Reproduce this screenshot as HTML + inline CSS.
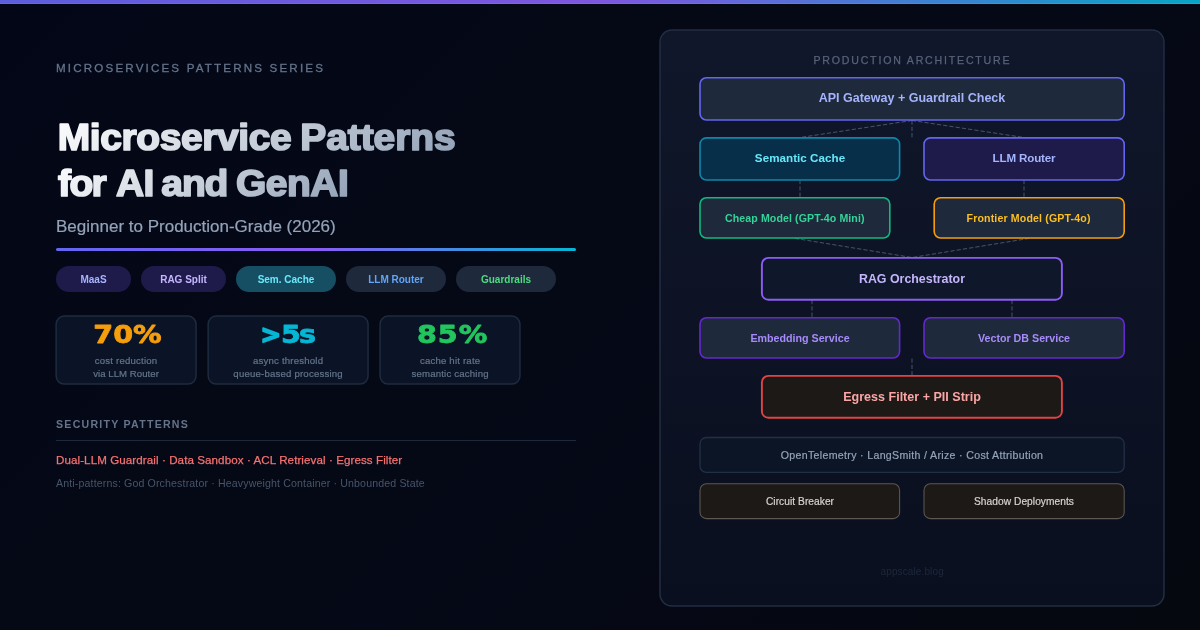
<!DOCTYPE html>
<html lang="en">
<head>
<meta charset="utf-8">
<title>Microservice Patterns for AI and GenAI</title>
<style>
*{margin:0;padding:0;box-sizing:border-box}
html,body{width:1200px;height:630px;overflow:hidden;background:#040816}
body{font-family:"Liberation Sans",sans-serif;-webkit-font-smoothing:antialiased}
.card{position:relative;width:1200px;height:630px;overflow:hidden;will-change:transform;
  background:linear-gradient(135deg,#020617 0%,#050916 32%,#050917 55%,#05080f 100%)}
.topbar{position:absolute;left:0;top:0;width:1200px;height:4px;
  background:linear-gradient(90deg,#6366f1 0%,#8b5cf6 50%,#06b6d4 100%)}
.topbar i{display:block;height:3px;background:linear-gradient(90deg,#5c5edc 0%,#7e56e0 50%,#08a5c5 100%)}
.abs{position:absolute;white-space:nowrap}
.eyebrow{left:56px;top:61px;font-size:11.6px;line-height:14px;font-weight:400;letter-spacing:2.17px;color:#64748b;-webkit-text-stroke:0.3px #64748b}
.sub{left:56px;top:216.5px;font-size:17px;line-height:20px;color:#94a3b8;-webkit-text-stroke:0.2px #94a3b8}
.rule{position:absolute;left:56px;top:248px;width:520px;height:3px;border-radius:2px;
  background:linear-gradient(90deg,#6366f1 0%,#8b5cf6 50%,#06b6d4 100%)}
.pill{position:absolute;top:266px;height:26px;border-radius:13px;font-size:10px;font-weight:700;line-height:28.6px;overflow:hidden;text-align:center;white-space:nowrap}
.stat{position:absolute;top:316px;height:68px;border:1px solid transparent;text-align:center}
.stat b{display:block;height:36.7px}
.stat span{display:block;font-size:9.6px;line-height:13px;color:#64748b;white-space:nowrap;letter-spacing:0.2px;padding-left:0.2px;-webkit-text-stroke:0.2px #64748b}
.sec{left:56px;top:418px;font-size:10.6px;line-height:12px;letter-spacing:1.25px;color:#64748b;font-weight:700}
.hr{position:absolute;left:56px;top:440px;width:520px;height:1px;background:#1e293b}
.red{left:56px;top:453.2px;font-size:11.6px;line-height:13px;letter-spacing:0.08px;-webkit-text-stroke:0.25px #f87171;color:#f87171}
.anti{left:56px;top:476.5px;font-size:10.6px;line-height:12px;letter-spacing:0.14px;color:#475569}
svg{position:absolute;left:0;top:0}
svg text{font-family:"Liberation Sans",sans-serif;text-anchor:middle}
svg .ttl text{text-anchor:start}
svg .num text{font-family:"DejaVu Sans","Liberation Sans",sans-serif}
</style>
</head>
<body>
<div class="card">
  <div class="topbar"><i></i></div>
  <svg width="1200" height="630" viewBox="0 0 1200 630">
    <defs>
      <linearGradient id="tg1" gradientUnits="userSpaceOnUse" x1="144.5" y1="25.5" x2="367.5" y2="248.5"><stop offset="0" stop-color="#ffffff"/><stop offset="1" stop-color="#94a3b8"/></linearGradient>
      <linearGradient id="tg2" gradientUnits="userSpaceOnUse" x1="117.5" y1="98.5" x2="286.5" y2="267.5"><stop offset="0" stop-color="#ffffff"/><stop offset="1" stop-color="#94a3b8"/></linearGradient>
      <linearGradient id="pg" x1="0" y1="0" x2="0" y2="1"><stop offset="0" stop-color="#10172a"/><stop offset="1" stop-color="#0a0f1f"/></linearGradient>
    </defs>
    <rect x="660" y="30" width="504" height="576" rx="12" fill="url(#pg)" stroke="#222e42" stroke-width="1.5"/>
    <g fill="#0b1426" stroke="#1f2b3e" stroke-width="1.5">
      <rect x="56.15" y="316.1" width="139.9" height="67.9" rx="8"/>
      <rect x="208.15" y="316.1" width="159.9" height="67.9" rx="8"/>
      <rect x="380.05" y="316.1" width="139.9" height="67.9" rx="8"/>
    </g>
    <g class="num" font-size="24.6" font-weight="700" stroke-width="0.8" stroke-linejoin="round">
      <text transform="translate(127.5,343.4) scale(1.16,1)" fill="#f59e0b" stroke="#f59e0b">70%</text>
      <text transform="translate(260.5,343.4)" fill="#06b6d4" stroke="#06b6d4" stroke-width="1.7" style="text-anchor:start">&gt;</text><text transform="translate(280.9,343.4) scale(1.16,1)" fill="#06b6d4" stroke="#06b6d4" letter-spacing="-1.6" style="text-anchor:start">5s</text>
      <text transform="translate(452.6,343.4) scale(1.16,1)" fill="#22c55e" stroke="#22c55e" letter-spacing="0.9">85%</text>
    </g>
    <g class="ttl" font-size="39" font-weight="700" stroke-width="1.8" stroke-linejoin="round" transform="scale(1,0.955)">
      <text y="156.6" fill="url(#tg1)" stroke="url(#tg1)"><tspan x="57.7" letter-spacing="-0.4">Microservice</tspan> <tspan x="300.3" letter-spacing="-0.1">Patterns</tspan></text>
      <text y="204.8" fill="url(#tg2)" stroke="url(#tg2)"><tspan x="58" letter-spacing="-1.6">for</tspan> <tspan x="116" letter-spacing="-0.7">AI</tspan> <tspan x="161.3" letter-spacing="-1.1">and</tspan> <tspan x="236" letter-spacing="-0.5">GenAI</tspan></text>
    </g>
    <text x="912.4" y="64.2" font-size="10.6" letter-spacing="1.8" fill="#56637a" stroke="#56637a" stroke-width="0.25">PRODUCTION ARCHITECTURE</text>
    <g stroke="#475569" stroke-width="1" stroke-dasharray="4.2 2.1" fill="none">
      <line x1="912" y1="120.5" x2="800" y2="137.5"/>
      <line x1="912" y1="120.5" x2="912" y2="138.5"/>
      <line x1="912" y1="120.5" x2="1024" y2="137.5"/>
      <line x1="800" y1="180" x2="800" y2="197.5"/>
      <line x1="1024" y1="180" x2="1024" y2="197.5"/>
      <line x1="795" y1="238.4" x2="912" y2="257.5"/>
      <line x1="1029.2" y1="238.4" x2="912" y2="257.5"/>
      <line x1="812" y1="300" x2="812" y2="317.5"/>
      <line x1="1012" y1="300" x2="1012" y2="317.5"/>
      <line x1="912" y1="358.5" x2="912" y2="375.5"/>
    </g>
    <g stroke-width="1.6">
      <rect x="700" y="77.8" width="424.2" height="42.2" rx="6.4" fill="#1e293b" stroke="#6366f1"/>
      <rect x="700" y="137.9" width="199.6" height="42.1" rx="6.4" fill="#082f49" stroke="#0e86aa"/>
      <rect x="924" y="137.9" width="200.2" height="42.1" rx="6.4" fill="#1e1b4b" stroke="#6366f1"/>
      <rect x="700" y="197.8" width="189.8" height="40.2" rx="6.4" fill="#1e293b" stroke="#10b981"/>
      <rect x="934.2" y="197.8" width="190" height="40.2" rx="6.4" fill="#1e293b" stroke="#f59e0b"/>
      <rect x="761.9" y="257.9" width="300" height="41.9" rx="6.4" fill="#0f172a" stroke="#8b5cf6" stroke-width="1.9"/>
      <rect x="700" y="317.8" width="199.6" height="40.2" rx="6.4" fill="#1e293b" stroke="#6528d0"/>
      <rect x="924" y="317.8" width="200.2" height="40.2" rx="6.4" fill="#1e293b" stroke="#6528d0"/>
      <rect x="761.9" y="375.9" width="300" height="41.9" rx="6.4" fill="#1c1917" stroke="#e04444" stroke-width="1.9"/>
    </g>
    <g stroke-width="1.06">
      <rect x="700" y="437.5" width="424.2" height="34.8" rx="6.4" fill="#0c1526" stroke="#223046" stroke-width="1.3"/>
      <rect x="700" y="483.8" width="199.6" height="34.8" rx="6.4" fill="#1c1917" stroke="#5c5752"/>
      <rect x="924" y="483.8" width="200.2" height="34.8" rx="6.4" fill="#1c1917" stroke="#5c5752"/>
    </g>
    <g font-weight="700">
      <text x="912" y="102" font-size="12.5" fill="#a5b4fc">API Gateway + Guardrail Check</text>
      <text x="800" y="162" font-size="11.6" letter-spacing="0.05" fill="#67e8f9">Semantic Cache</text>
      <text x="1024" y="162" font-size="11.6" letter-spacing="-0.15" fill="#a5b4fc">LLM Router</text>
      <text x="794.8" y="221.6" font-size="10.6" letter-spacing="0.1" fill="#34d399">Cheap Model (GPT-4o Mini)</text>
      <text x="1028.6" y="221.6" font-size="10.6" letter-spacing="0.15" fill="#fbbf24">Frontier Model (GPT-4o)</text>
      <text x="912" y="282.6" font-size="12.4" fill="#c4b5fd">RAG Orchestrator</text>
      <text x="800" y="342" font-size="10.7" fill="#a78bfa">Embedding Service</text>
      <text x="1024" y="342" font-size="10.7" fill="#a78bfa">Vector DB Service</text>
      <text x="912" y="401" font-size="12.55" fill="#fca5a5">Egress Filter + PII Strip</text>
    </g>
    <text x="912" y="459" font-size="10.6" letter-spacing="0.33" fill="#94a3b8" stroke="#94a3b8" stroke-width="0.2">OpenTelemetry · LangSmith / Arize · Cost Attribution</text>
    <text x="800" y="505.3" font-size="10.2" letter-spacing="0.05" fill="#d6d3d1" stroke="#d6d3d1" stroke-width="0.2">Circuit Breaker</text>
    <text x="1024" y="505.3" font-size="10.2" letter-spacing="0.05" fill="#d6d3d1" stroke="#d6d3d1" stroke-width="0.2">Shadow Deployments</text>
    <text x="912.2" y="574.5" font-size="10" letter-spacing="0.12" fill="#1e293b">appscale.blog</text>
  </svg>
  <div class="abs eyebrow">MICROSERVICES PATTERNS SERIES</div>
  <div class="abs sub">Beginner to Production-Grade (2026)</div>
  <div class="rule"></div>

  <div class="pill" style="left:56px;width:75px;background:#1e1b4b;color:#a5b4fc">MaaS</div>
  <div class="pill" style="left:141px;width:85px;background:#1e1b4b;color:#c4b5fd">RAG Split</div>
  <div class="pill" style="left:236px;width:100px;background:#164e63;color:#67e8f9">Sem. Cache</div>
  <div class="pill" style="left:346px;width:100px;background:#1e293b;color:#60a5fa">LLM Router</div>
  <div class="pill" style="left:456px;width:100px;background:#1e293b;color:#4ade80">Guardrails</div>

  <div class="stat" style="left:56px;width:140px"><b></b><span>cost reduction</span><span style="letter-spacing:0.05px">via LLM Router</span></div>
  <div class="stat" style="left:208px;width:160px"><b></b><span>async threshold</span><span>queue-based processing</span></div>
  <div class="stat" style="left:380px;width:140px"><b></b><span>cache hit rate</span><span>semantic caching</span></div>

  <div class="abs sec">SECURITY PATTERNS</div>
  <div class="hr"></div>
  <div class="abs red">Dual-LLM Guardrail · Data Sandbox · ACL Retrieval · Egress Filter</div>
  <div class="abs anti">Anti-patterns: God Orchestrator · Heavyweight Container · Unbounded State</div>
</div>
</body>
</html>
